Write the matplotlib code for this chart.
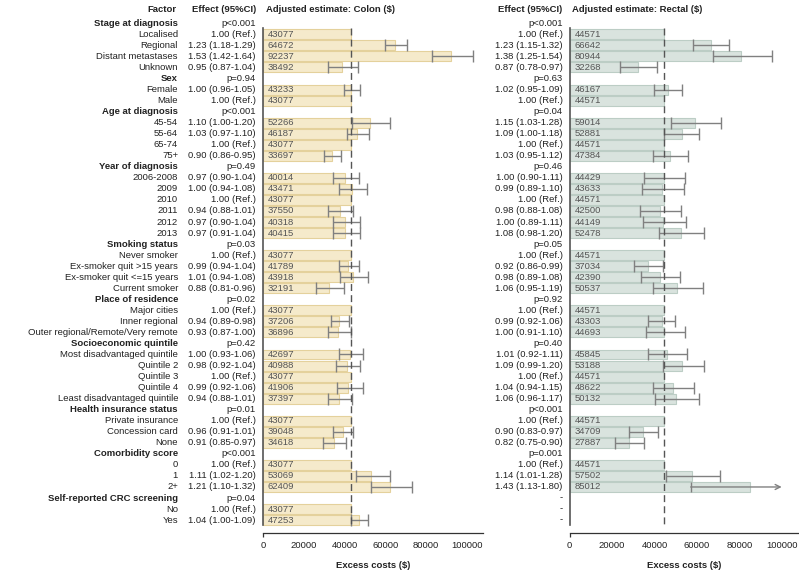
import matplotlib
matplotlib.use("Agg")
import matplotlib.pyplot as plt
import matplotlib.transforms as mtransforms

plt.rcParams['font.family'] = ['Liberation Sans', 'DejaVu Sans']

# ---------------- data ----------------
factors = ["Stage at diagnosis", "Localised", "Regional", "Distant metastases", "Unknown",
           "Sex", "Female", "Male",
           "Age at diagnosis", "45-54", "55-64", "65-74", "75+",
           "Year of diagnosis", "2006-2008", "2009", "2010", "2011", "2012", "2013",
           "Smoking status", "Never smoker", "Ex-smoker quit >15 years", "Ex-smoker quit <=15 years", "Current smoker",
           "Place of residence", "Major cities", "Inner regional", "Outer regional/Remote/Very remote",
           "Socioeconomic quintile", "Most disadvantaged quintile", "Quintile 2", "Quintile 3", "Quintile 4",
           "Least disadvantaged quintile",
           "Health insurance status", "Private insurance", "Concession card", "None",
           "Comorbidity score", "0", "1", "2+",
           "Self-reported CRC screening", "No", "Yes"]
headers = ["Stage at diagnosis", "Sex", "Age at diagnosis", "Year of diagnosis", "Smoking status",
           "Place of residence", "Socioeconomic quintile", "Health insurance status",
           "Comorbidity score", "Self-reported CRC screening"]

colon_effect = ["p<0.001", "1.00 (Ref.)", "1.23 (1.18-1.29)", "1.53 (1.42-1.64)", "0.95 (0.87-1.04)",
                "p=0.94", "1.00 (0.96-1.05)", "1.00 (Ref.)",
                "p<0.001", "1.10 (1.00-1.20)", "1.03 (0.97-1.10)", "1.00 (Ref.)", "0.90 (0.86-0.95)",
                "p=0.49", "0.97 (0.90-1.04)", "1.00 (0.94-1.08)", "1.00 (Ref.)", "0.94 (0.88-1.01)",
                "0.97 (0.90-1.04)", "0.97 (0.91-1.04)",
                "p=0.03", "1.00 (Ref.)", "0.99 (0.94-1.04)", "1.01 (0.94-1.08)", "0.88 (0.81-0.96)",
                "p=0.02", "1.00 (Ref.)", "0.94 (0.89-0.98)", "0.93 (0.87-1.00)",
                "p=0.42", "1.00 (0.93-1.06)", "0.98 (0.92-1.04)", "1.00 (Ref.)", "0.99 (0.92-1.06)",
                "0.94 (0.88-1.01)",
                "p=0.01", "1.00 (Ref.)", "0.96 (0.91-1.01)", "0.91 (0.85-0.97)",
                "p<0.001", "1.00 (Ref.)", "1.11 (1.02-1.20)", "1.21 (1.10-1.32)",
                "p=0.04", "1.00 (Ref.)", "1.04 (1.00-1.09)"]

rectal_effect = ["p<0.001", "1.00 (Ref.)", "1.23 (1.15-1.32)", "1.38 (1.25-1.54)", "0.87 (0.78-0.97)",
                 "p=0.63", "1.02 (0.95-1.09)", "1.00 (Ref.)",
                 "p=0.04", "1.15 (1.03-1.28)", "1.09 (1.00-1.18)", "1.00 (Ref.)", "1.03 (0.95-1.12)",
                 "p=0.46", "1.00 (0.90-1.11)", "0.99 (0.89-1.10)", "1.00 (Ref.)", "0.98 (0.88-1.08)",
                 "1.00 (0.89-1.11)", "1.08 (0.98-1.20)",
                 "p=0.05", "1.00 (Ref.)", "0.92 (0.86-0.99)", "0.98 (0.89-1.08)", "1.06 (0.95-1.19)",
                 "p=0.92", "1.00 (Ref.)", "0.99 (0.92-1.06)", "1.00 (0.91-1.10)",
                 "p=0.40", "1.01 (0.92-1.11)", "1.09 (0.99-1.20)", "1.00 (Ref.)", "1.04 (0.94-1.15)",
                 "1.06 (0.96-1.17)",
                 "p<0.001", "1.00 (Ref.)", "0.90 (0.83-0.97)", "0.82 (0.75-0.90)",
                 "p=0.001", "1.00 (Ref.)", "1.14 (1.01-1.28)", "1.43 (1.13-1.80)",
                 "-", "-", "-"]

colon_ref = 43077
rectal_ref = 44571

colon_est = [None, 43077, 64672, 92237, 38492, None, 43233, 43077, None, 52266, 46187, 43077, 33697,
             None, 40014, 43471, 43077, 37550, 40318, 40415, None, 43077, 41789, 43918, 32191,
             None, 43077, 37206, 36896, None, 42697, 40988, 43077, 41906, 37397,
             None, 43077, 39048, 34618, None, 43077, 53069, 62409, None, 43077, 47253]
colon_lo = [None, None, 59800, 82700, 31700, None, 39550, None, None, 43470, 41020, None, 30060,
            None, 34150, 37420, None, 32030, 34150, 34480, None, None, 37420, 37750, 25980,
            None, None, 33330, 31700, None, 37260, 35630, None, 36120, 31700,
            None, None, 34480, 29570, None, None, 45430, 52940, None, None, 43290]
colon_hi = [None, None, 70440, 103100, 46730, None, 47550, None, None, 62250, 52120, None, 38390,
            None, 47220, 50820, None, 44280, 47550, 47390, None, None, 46900, 51320, 39710,
            None, None, 42000, 42980, None, 49170, 47550, None, 48860, 43780,
            None, None, 44280, 40690, None, None, 62250, 73190, None, None, 51630]

rectal_est = [None, 44571, 66642, 80944, 32268, None, 46167, 44571, None, 59014, 52881, 44571, 47384,
              None, 44429, 43633, 44571, 42500, 44149, 52478, None, 44571, 37034, 42390, 50537,
              None, 44571, 43303, 44693, None, 45845, 53188, 44571, 48622, 50132,
              None, 44571, 34709, 27887, None, 44571, 57502, 85012, None, None, None]
rectal_lo = [None, None, 58300, 67740, 23730, None, 39760, None, None, 47640, 44620, None, 39430,
             None, 35050, 33960, None, 33160, 34430, 42270, None, None, 30470, 33490, 39430,
             None, None, 36790, 35850, None, 37080, 43870, None, 39150, 40090,
             None, None, 28110, 21370, None, None, 45280, 57070, None, None, None]
rectal_hi = [None, None, 75140, 95280, 41320, None, 52830, None, None, 71370, 61130, None, 55660,
             None, 54530, 54060, None, 52500, 54860, 63350, None, None, 44150, 52030, 62730,
             None, None, 49810, 54250, None, 55330, 63350, None, 58770, 60990,
             None, None, 41790, 35050, None, None, 70900, 112000, None, None, None]

xticks = [0, 20000, 40000, 60000, 80000, 100000]

# ---------------- layout ----------------
W, H = 799, 574
fig = plt.figure(figsize=(W / 100, H / 100), dpi=100)
FS = 6.8
TXT = '#222222'
ERR = '#808080'

row0_px, row_px = 23.3, 11.04
axis_px = 533
ylim = ((axis_px - row0_px) / row_px, -row0_px / row_px)
nrows = len(factors)


def make_axes(left_px, width_px, px_per_1000):
    ax = fig.add_axes([left_px / W, (H - axis_px) / H, width_px / W, axis_px / H])
    ax.set_xlim(0, width_px / px_per_1000 * 1000)
    ax.set_ylim(*ylim)
    ax.patch.set_alpha(0)
    for s in ['top', 'right']:
        ax.spines[s].set_visible(False)
    ax.spines['left'].set_bounds(0.45, nrows - 0.55)
    ax.spines['left'].set_color('#555555')
    ax.spines['left'].set_linewidth(1.2)
    ax.spines['bottom'].set_color('#333333')
    ax.spines['bottom'].set_linewidth(0.9)
    ax.set_yticks([])
    ax.set_xticks(xticks)
    ax.set_xticklabels([str(t) for t in xticks], fontsize=FS, color=TXT)
    ax.tick_params(axis='x', length=3, width=0.9, color='#333333', pad=3)
    for t in ax.xaxis.get_major_ticks()[1:]:
        t.tick1line.set_visible(False)
    ax.set_xlabel('Excess costs ($)', fontsize=FS, fontweight='bold', color=TXT, labelpad=8)
    return ax


def draw_panel(ax, est, lo, hi, ref, fill, edge):
    xmax = xticks[-1]
    xlim_max = ax.get_xlim()[1]
    rows = [i for i, v in enumerate(est) if v is not None]
    vals = [est[i] for i in rows]
    ax.barh(rows, vals, height=0.9, color=fill, edgecolor=edge, linewidth=0.8, zorder=1)
    ax.vlines(ref, 0.45, nrows - 0.55, colors='#555555', linestyles=(0, (5, 3)), linewidth=1, zorder=3)
    off = mtransforms.offset_copy(ax.transData, fig=fig, x=3.6, y=0, units='points')
    for i in rows:
        ax.text(0, i, str(est[i]), transform=off, ha='left', va='center', fontsize=FS, color='#555555', zorder=4)
        if lo[i] is None:
            continue
        if hi[i] <= xlim_max:
            ax.errorbar(est[i], i, xerr=[[est[i] - lo[i]], [hi[i] - est[i]]], fmt='none',
                        ecolor=ERR, elinewidth=1, capsize=4.5, capthick=1, zorder=2)
        else:
            ax.annotate('', xy=(xmax, i), xytext=(lo[i], i),
                        arrowprops=dict(arrowstyle='->', color=ERR, lw=1, shrinkA=0, shrinkB=0,
                                        mutation_scale=9), zorder=2)
            ax.plot([lo[i]], [i], marker='|', ms=6.5, mew=1, color=ERR, zorder=2)


axc = make_axes(263, 220, 2.04)
axr = make_axes(569.7, 229.3, 2.12)

draw_panel(axc, colon_est, colon_lo, colon_hi, colon_ref, '#F5EACB', '#E4D19C')
draw_panel(axr, rectal_est, rectal_lo, rectal_hi, rectal_ref, '#D9E3DE', '#BCCDC5')

tr = mtransforms.blended_transform_factory(fig.transFigure, axc.transData)
hdr_row = (10 - row0_px) / row_px


def ftext(x_px, row, txt, ha, bold=False):
    t = fig.text(x_px / W, row, txt, ha=ha, va='center', fontsize=FS,
                 fontweight='bold' if bold else 'normal', color=TXT)
    t.set_transform(tr)
    return t


ftext(177, hdr_row, 'Factor', 'right', True)
ftext(256, hdr_row, 'Effect (95%CI)', 'right', True)
ftext(562.7, hdr_row, 'Effect (95%CI)', 'right', True)
ftext(266, hdr_row, 'Adjusted estimate: Colon ($)', 'left', True)
ftext(571.7, hdr_row, 'Adjusted estimate: Rectal ($)', 'left', True)

for i, lab in enumerate(factors):
    ftext(178, i, lab, 'right', lab in headers)
    ftext(256, i, colon_effect[i], 'right')
    ftext(562.7, i, rectal_effect[i], 'right')

fig.savefig('out.png', dpi=100)
